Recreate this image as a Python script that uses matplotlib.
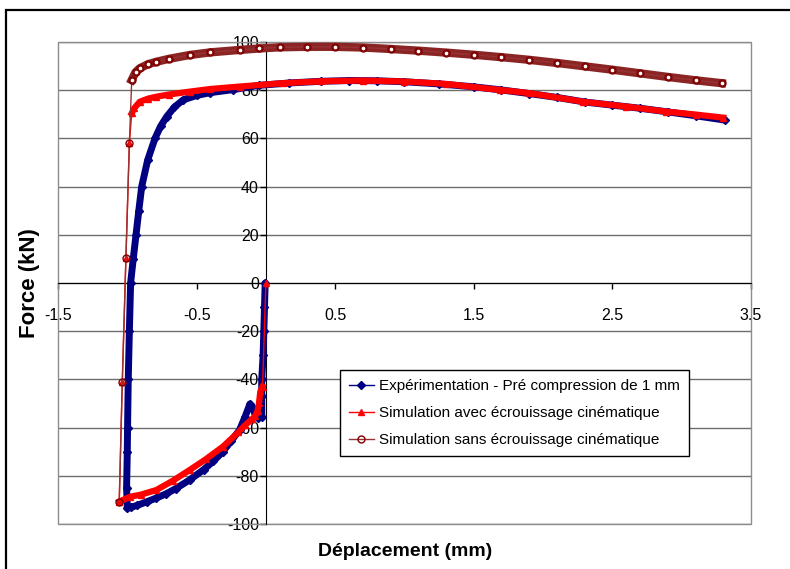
import matplotlib.pyplot as plt
from matplotlib.patches import Rectangle

plt.rcParams['font.family'] = ['Liberation Sans', 'DejaVu Sans']
plt.rcParams['axes.unicode_minus'] = False

# Expérimentation - Pré compression de 1 mm
exp_x = [-0.005, -0.01, -0.015, -0.02, -0.03, -0.03, -0.03, -0.055, -0.08, -0.1, -0.115,
         -0.15, -0.19, -0.25, -0.31, -0.38, -0.45, -0.55, -0.65, -0.72, -0.79, -0.86,
         -0.93, -0.97, -1.0, -1.005, -1.0, -0.998, -0.993, -0.985, -0.976, -0.957, -0.937,
         -0.917, -0.896, -0.853, -0.80, -0.76, -0.716, -0.66, -0.596, -0.5, -0.4, -0.24,
         -0.05, 0.17, 0.4, 0.6, 0.8, 1.0, 1.25, 1.5, 1.7, 1.9, 2.1, 2.3, 2.5, 2.7, 2.9,
         3.1, 3.31]
exp_y = [0, -10, -20, -30, -40, -47, -55.5, -56, -54, -51.5, -50.2,
         -55.5, -61, -65.5, -70, -74, -77.5, -81.7, -85.3, -87.5, -89.2, -90.8,
         -92.3, -93.0, -93.5, -85, -70, -60, -40, -20, 0, 10, 20,
         30, 40, 51, 60, 65, 69, 73, 76, 77.8, 79.0, 80.2,
         82, 83.0, 83.7, 84.0, 83.9, 83.5, 82.6, 81.4, 80.1, 78.6, 77.0, 75.1, 73.8, 72.5, 71.0,
         69.4, 67.6]

# Simulation avec écrouissage cinématique
avec_x = [0, -0.024, -0.04, -0.05, -0.06, -0.075, -0.1, -0.15, -0.2, -0.31, -0.43, -0.55,
          -0.67, -0.79, -0.9, -0.98, -1.058, -1.036, -1.01, -0.985, -0.968, -0.95, -0.91,
          -0.85, -0.79, -0.7, -0.55, -0.4, -0.19, 0.12, 0.4, 0.7, 1.0, 1.3, 1.69, 1.9,
          2.29, 2.6, 2.89, 3.1, 3.30]
avec_y = [0, -43, -45, -50, -53, -55, -56.5, -59, -62, -67.9, -73, -77.6,
          -82, -85.9, -87.8, -88.7, -90.7, -41, 10.2, 58, 70.4, 72.5, 75.2,
          76.5, 77.3, 78.2, 79.4, 80.5, 81.5, 82.9, 83.7, 84.0, 83.6, 82.6, 80.1, 78.8,
          75.2, 73.2, 71.1, 69.9, 68.6]

# Simulation sans écrouissage cinématique
sans_x = [-1.058, -1.036, -1.01, -0.985, -0.968, -0.94, -0.91, -0.85, -0.79, -0.7, -0.55,
          -0.4, -0.19, -0.05, 0.1, 0.3, 0.5, 0.7, 0.9, 1.1, 1.3, 1.5, 1.7, 1.9, 2.1, 2.3,
          2.5, 2.7, 2.9, 3.1, 3.29]
sans_y = [-90.7, -41, 10.2, 58, 84.2, 87.5, 89.1, 90.8, 91.8, 93.0, 94.6,
          95.7, 96.7, 97.3, 97.8, 98.0, 98.0, 97.7, 97.1, 96.4, 95.6, 94.7, 93.7, 92.6, 91.3, 89.9,
          88.5, 87.0, 85.5, 84.1, 82.9]

labels = ['Expérimentation - Pré compression de 1 mm',
          'Simulation avec écrouissage cinématique',
          'Simulation sans écrouissage cinématique']

x_ticks = [-1.5, -0.5, 0.5, 1.5, 2.5, 3.5]
y_ticks = list(range(-100, 101, 20))

fig = plt.figure(figsize=(7.9, 5.69), dpi=100)
ax = fig.add_axes([0.0734, 0.0791, 0.8772, 0.8471])

# outer frame of the chart
fig.patches.append(Rectangle((6 / 790, -0.05), 1.1, 1 - 10 / 569 + 0.05, transform=fig.transFigure,
                             fill=False, edgecolor='black', linewidth=1.6))

blue = '#000080'
red = '#ff0000'
brown = '#993333'

# dense parts of the curves drawn as thick bands
ax.plot(exp_x, exp_y, color=blue, lw=5, solid_capstyle='round', zorder=3)
ax.plot(avec_x[1:17], avec_y[1:17], color=red, lw=4.5, zorder=4)
ax.plot(avec_x[20:], avec_y[20:], color=red, lw=4.5, zorder=4)
ax.plot(sans_x[4:], sans_y[4:], color='#8b2525', lw=6, zorder=5)

ax.plot(exp_x, exp_y, color=blue, lw=1, marker='D', ms=4, label=labels[0], zorder=3)
ax.plot(avec_x, avec_y, color=red, lw=1, marker='^', ms=5, label=labels[1], zorder=4)
ax.plot(sans_x, sans_y, color=brown, lw=1, marker='o', ms=5, mfc='none', mec='#800000',
        label=labels[2], zorder=5)
ax.plot(sans_x[4:], sans_y[4:], ls='none', marker='o', ms=3.5, mfc='white', mec='#800000',
        mew=0.8, zorder=6)

ax.set_xlim(-1.5, 3.5)
ax.set_ylim(-100, 100)
ax.set_xticks(x_ticks)
ax.set_yticks(y_ticks)
ax.yaxis.grid(True, color='#6e6e6e', lw=1)
ax.set_axisbelow(True)

for s in ['top', 'right']:
    ax.spines[s].set_visible(False)
ax.spines['left'].set_position(('data', 0))
ax.spines['bottom'].set_position(('data', 0))
ax.add_patch(Rectangle((0, 0), 1, 1, transform=ax.transAxes, fill=False,
                       edgecolor='#8c8c8c', lw=1, clip_on=False, zorder=1))

ax.tick_params(axis='x', direction='out', length=4, width=1, pad=14, labelsize=11.5)
ax.tick_params(axis='y', direction='out', length=4, width=1, pad=1, labelsize=11.5)

fig.text(30 / 790, 1 - 283 / 569, 'Force (kN)', rotation=90, ha='center', va='center',
         fontsize=16, fontweight='bold')
fig.text(405 / 790, 1 - 551 / 569, 'Déplacement (mm)', ha='center', va='center',
         fontsize=14, fontweight='bold')

leg = ax.legend(loc='upper left', bbox_to_anchor=(0.407, 0.3195), fontsize=11,
                numpoints=1, handlelength=1.6, labelspacing=0.85, borderpad=0.6,
                handletextpad=0.35, fancybox=False, framealpha=1, borderaxespad=0)
leg.get_frame().set_edgecolor('black')
leg.get_frame().set_linewidth(1)

fig.savefig('out.png', dpi=100)
